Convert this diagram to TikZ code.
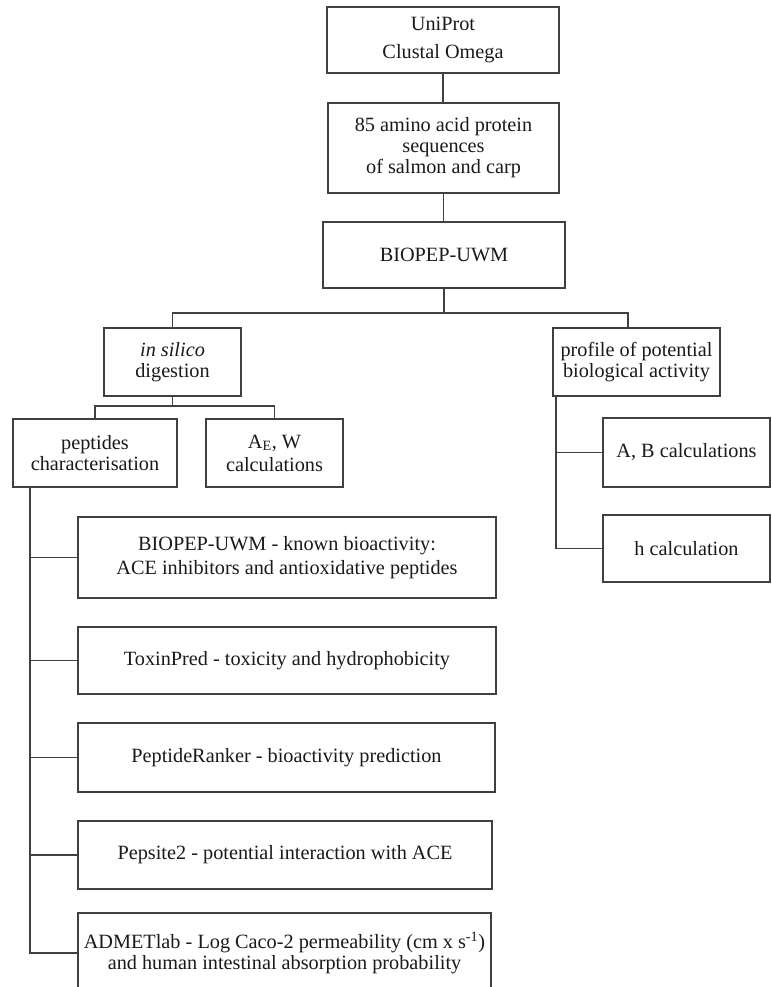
\documentclass[tikz,border=0pt]{standalone}
\usepackage{fontspec}
\setmainfont{Liberation Serif}
\definecolor{linec}{HTML}{404040}
\definecolor{textc}{HTML}{1A1A1A}
\begin{document}
\begin{tikzpicture}[x=0.75pt,y=-0.75pt,
  box/.style={draw=linec, line width=1pt, fill=white, align=center, inner sep=0pt,
    font=\fontsize{15.2}{15.75}\selectfont, text=textc},
  conn/.style={draw=linec, line width=1pt}]
\useasboundingbox (0,0) rectangle (771,987);
\clip (0,0) rectangle (771,987);
\fill[white] (0,0) rectangle (771,987);

\node[box, minimum width=232*0.75pt, minimum height=66*0.75pt] (uni) at (443,40) {UniProt\\[5pt]Clustal Omega};
\node[box, minimum width=231*0.75pt, minimum height=90*0.75pt] (seq) at (443.5,148) {85 amino acid protein\\sequences\\of salmon and carp};
\node[box, minimum width=242*0.75pt, minimum height=66*0.75pt] (bio) at (444,255) {BIOPEP-UWM};
\node[box, minimum width=137*0.75pt, minimum height=68*0.75pt] (silico) at (172.5,362) {\textit{in silico}\\digestion};
\node[box, minimum width=167*0.75pt, minimum height=68*0.75pt] (profile) at (636.5,362) {profile of potential\\biological activity};
\node[box, minimum width=164*0.75pt, minimum height=68*0.75pt] (pep) at (95,453) {peptides\\characterisation};
\node[box, minimum width=137*0.75pt, minimum height=68*0.75pt] (ae) at (274.5,453) {A\textsubscript{E}, W\\[1.5pt]calculations};
\node[box, minimum width=167*0.75pt, minimum height=69*0.75pt] (ab) at (686.5,452.5) {A, B calculations};
\node[box, minimum width=167*0.75pt, minimum height=67*0.75pt] (h) at (686.5,548.5) {h calculation};

\node[box, minimum width=418*0.75pt, minimum height=81*0.75pt] (b1) at (287,557.5) {BIOPEP-UWM - known bioactivity:\\[2pt]ACE inhibitors and antioxidative peptides};
\node[box, minimum width=418*0.75pt, minimum height=67*0.75pt] (b2) at (287,660.5) {ToxinPred - toxicity and hydrophobicity};
\node[box, minimum width=417*0.75pt, minimum height=69*0.75pt] (b3) at (286.5,757.5) {PeptideRanker - bioactivity prediction};
\node[box, minimum width=414*0.75pt, minimum height=68*0.75pt] (b4) at (285,855) {Pepsite2 - potential interaction with ACE};
\node[box, minimum width=413*0.75pt, minimum height=80*0.75pt] (b5) at (284.5,953) {ADMETlab - Log Caco-2 permeability (cm x s\textsuperscript{-1})\\and human intestinal absorption probability};

% connectors
\draw[conn] (uni.south) -- (uni.south |- seq.north);
\draw[conn] (seq.south) -- (seq.south |- bio.north);
\coordinate (j1) at (628,313);
\coordinate (pj) at (628,328);
\draw[conn] (bio.south) -- (bio.south |- j1);
\draw[conn] (silico.north) |- (j1) -- (pj);
\coordinate (j2) at (172.5,406);
\draw[conn] (silico.south) -- (j2);
\draw[conn] (pep.north) |- (j2) -| (ae.north);
\coordinate (pt) at (556,396);
\draw[conn] (pt) |- (ab.west);
\draw[conn] (pt) |- (h.west);
\coordinate (lt) at (30,487);
\draw[conn] (lt) |- (b1.west);
\draw[conn] (lt) |- (b2.west);
\draw[conn] (lt) |- (b3.west);
\draw[conn] (lt) |- (b4.west);
\draw[conn] (lt) |- (b5.west);
\end{tikzpicture}
\end{document}
